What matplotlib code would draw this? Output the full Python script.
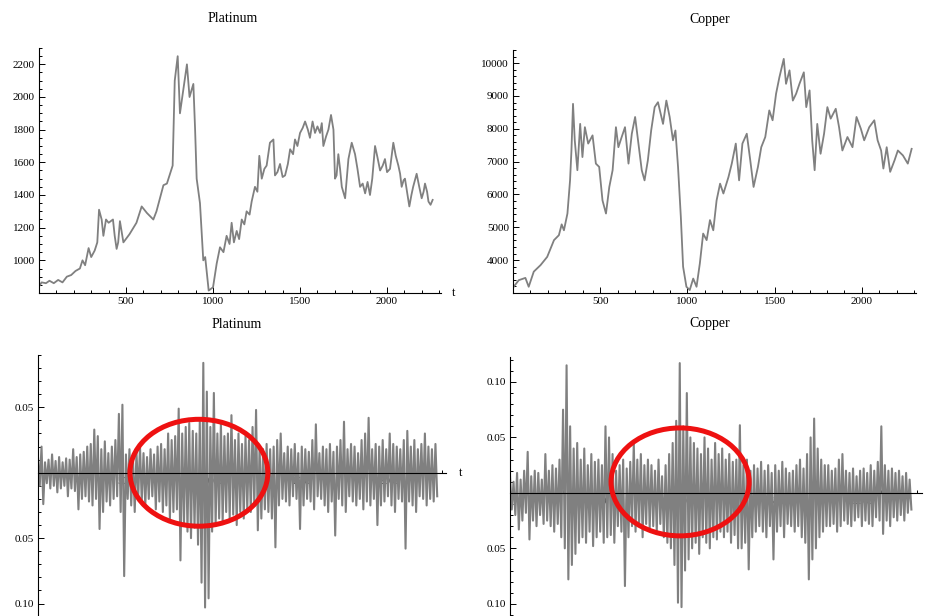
import numpy as np
import matplotlib
matplotlib.use("Agg")
import matplotlib.pyplot as plt
from matplotlib.patches import Ellipse
from matplotlib.ticker import MultipleLocator, FixedLocator, FixedFormatter

plt.rcParams['font.family'] = ['Liberation Serif', 'DejaVu Serif']

# ---- price series (t, value) ----
plat_t = [0, 15, 40, 60, 85, 110, 135, 160, 185, 210, 235, 250, 265, 285, 300, 320, 335, 345,
          360, 370, 385, 400, 425, 435, 446, 455, 465, 485, 520, 560, 590, 620, 657, 675, 695,
          715, 735, 753, 768, 780, 797, 810, 830, 850, 865, 887, 897, 906, 925, 944, 955, 975,
          1000, 1021, 1040, 1060, 1078, 1095, 1107, 1120, 1136, 1150, 1165, 1180, 1193, 1210,
          1222, 1241, 1255, 1266, 1280, 1295, 1308, 1327, 1347, 1356, 1370, 1385, 1400, 1414,
          1430, 1443, 1460, 1471, 1485, 1500, 1515, 1529, 1545, 1557, 1572, 1586, 1600, 1615,
          1625, 1634, 1650, 1663, 1678, 1692, 1701, 1710, 1720, 1730, 1740, 1759, 1778, 1797,
          1816, 1830, 1845, 1860, 1874, 1888, 1902, 1915, 1931, 1945, 1960, 1975, 1988, 2000,
          2017, 2036, 2050, 2065, 2075, 2084, 2095, 2103, 2115, 2128, 2140, 2150, 2170, 2185,
          2199, 2210, 2218, 2230, 2238, 2250, 2262]
plat_p = [840, 865, 860, 875, 860, 880, 865, 900, 910, 935, 950, 1000, 970, 1075, 1020, 1060,
          1110, 1310, 1250, 1150, 1250, 1230, 1250, 1150, 1070, 1110, 1240, 1110, 1160, 1230,
          1330, 1290, 1250, 1300, 1380, 1460, 1470, 1530, 1580, 2100, 2250, 1900, 2050, 2200,
          2000, 2080, 1800, 1500, 1350, 1000, 1020, 815, 835, 980, 1080, 1050, 1150, 1100, 1230,
          1110, 1180, 1130, 1250, 1220, 1300, 1280, 1360, 1450, 1420, 1640, 1500, 1560, 1580,
          1720, 1740, 1520, 1540, 1590, 1510, 1520, 1590, 1680, 1650, 1740, 1700, 1780, 1810,
          1850, 1800, 1750, 1850, 1780, 1820, 1780, 1840, 1700, 1760, 1800, 1890, 1800, 1500,
          1520, 1650, 1560, 1450, 1380, 1620, 1720, 1650, 1560, 1450, 1470, 1410, 1480, 1400,
          1500, 1700, 1630, 1550, 1580, 1620, 1540, 1560, 1720, 1640, 1580, 1530, 1450, 1490,
          1500, 1420, 1330, 1400, 1450, 1530, 1450, 1380, 1420, 1470, 1420, 1360, 1340, 1370]

copper_t = [4, 33, 71, 90, 119, 158, 196, 235, 263, 279, 292, 312, 327, 335, 344, 354, 369,
            385, 398, 412, 431, 456, 475, 494, 513, 533, 552, 571, 590, 604, 623, 642, 662, 681,
            700, 719, 738, 754, 773, 792, 812, 831, 860, 879, 898, 917, 931, 946, 962, 975, 994,
            1013, 1033, 1052, 1071, 1090, 1110, 1129, 1148, 1167, 1187, 1206, 1235, 1254, 1277,
            1296, 1315, 1340, 1360, 1379, 1404, 1423, 1446, 1469, 1488, 1508, 1527, 1552, 1565,
            1585, 1604, 1623, 1642, 1667, 1681, 1700, 1715, 1729, 1744, 1763, 1783, 1802, 1821,
            1850, 1869, 1888, 1917, 1946, 1969, 1994, 2013, 2042, 2071, 2090, 2110, 2123, 2142,
            2162, 2187, 2206, 2235, 2263, 2285]
copper_p = [3190, 3390, 3460, 3190, 3650, 3850, 4100, 4610, 4760, 5090, 4910, 5420, 6430, 7340,
            8760, 7650, 6740, 8150, 7140, 8050, 7550, 7800, 6940, 6840, 5820, 5420, 6230, 6740,
            8050, 7440, 7750, 8050, 6940, 7850, 8360, 7550, 6740, 6430, 7040, 7950, 8660, 8810,
            8150, 8860, 8360, 7650, 7950, 6840, 5320, 3800, 3190, 3090, 3440, 3190, 3900, 4810,
            4610, 5220, 4910, 5820, 6330, 6030, 6530, 6940, 7550, 6430, 7550, 7850, 7040, 6230,
            6840, 7440, 7750, 8560, 8260, 9070, 9570, 10130, 9370, 9780, 8860, 9070, 9370, 9720,
            8660, 9170, 7650, 6740, 8150, 7240, 7850, 8660, 8310, 8610, 8050, 7340, 7750, 7440,
            8360, 8000, 7650, 8050, 8260, 7650, 7340, 6790, 7440, 6690, 7040, 7340, 7190, 6940,
            7390]

# ---- returns: alternating upper / lower spikes every 10 steps, in units of 0.001 ----
plat_up = [12, 20, 8, 10, 14, 9, 12, 8, 11, 10, 18, 12, 14, 16, 20, 22, 33, 28, 18, 24,
           15, 20, 25, 45, 52, 14, 18, 12, 16, 20, 15, 12, 18, 14, 20, 22, 18, 30, 25, 28,
           49, 30, 35, 38, 32, 30, 40, 84, 62, 35, 61, 30, 38, 28, 30, 44, 25, 30, 22, 28,
           25, 35, 48, 20, 18, 22, 18, 20, 25, 30, 15, 20, 18, 22, 15, 20, 18, 16, 25, 37,
           15, 20, 18, 22, 16, 20, 25, 39, 18, 22, 20, 15, 25, 30, 42, 18, 22, 20, 25, 18,
           30, 22, 20, 18, 25, 32, 20, 25, 18, 22, 30, 20, 18, 22]
plat_dn = [-10, -24, -8, -12, -10, -15, -12, -10, -18, -12, -14, -28, -20, -18, -22,
           -25, -20, -43, -30, -22, -25, -20, -18, -30, -79, -20, -25, -30, -18, -22,
           -25, -20, -18, -28, -22, -30, -25, -35, -30, -28, -67, -40, -45, -50, -42,
           -55, -84, -103, -96, -45, -40, -35, -38, -30, -35, -32, -40, -30, -35, -28,
           -30, -25, -44, -35, -28, -30, -35, -57, -25, -20, -22, -25, -18, -20, -43,
           -25, -20, -22, -28, -18, -20, -25, -30, -22, -48, -20, -25, -30, -18, -22,
           -25, -20, -28, -22, -25, -20, -40, -25, -22, -18, -25, -30, -20, -22, -58,
           -22, -25, -30, -18, -20, -25, -20, -22, -18]
copper_up = [15, 10, 18, 12, 20, 37, 15, 20, 18, 12, 35, 20, 25, 22, 30, 75, 115, 60, 40, 45,
             30, 40, 25, 35, 28, 30, 25, 60, 50, 35, 20, 25, 30, 22, 28, 45, 30, 35, 25, 30,
             25, 20, 30, 15, 25, 35, 45, 65, 117, 60, 90, 50, 45, 40, 35, 50, 40, 30, 45, 35,
             40, 30, 35, 28, 30, 61, 25, 30, 20, 25, 22, 28, 20, 25, 18, 25, 20, 28, 22, 18,
             20, 25, 30, 22, 35, 50, 67, 40, 30, 25, 25, 20, 22, 30, 35, 20, 18, 22, 15, 20,
             22, 18, 25, 20, 28, 60, 25, 20, 22, 18, 20, 15, 18, 12]
copper_dn = [-15, -20, -33, -25, -18, -42, -25, -30, -20, -28, -25, -30, -35, -28, -40,
             -50, -78, -65, -55, -45, -40, -45, -35, -48, -40, -35, -45, -40, -38, -45,
             -30, -35, -84, -40, -30, -35, -30, -40, -28, -32, -30, -35, -28, -40, -45,
             -50, -65, -99, -103, -70, -60, -50, -45, -55, -40, -45, -50, -40, -42, -35,
             -40, -35, -45, -38, -50, -50, -45, -69, -40, -35, -30, -35, -40, -30, -60,
             -35, -30, -40, -28, -30, -35, -30, -40, -45, -78, -60, -50, -40, -35, -30,
             -30, -28, -35, -30, -25, -28, -30, -25, -22, -30, -25, -28, -30, -22, -25,
             -37, -25, -30, -22, -25, -20, -25, -18, -15]


def interleave(up, dn):
    r = np.empty(len(up) + len(dn))
    r[0::2] = up
    r[1::2] = dn
    return r / 1000.0


plat_r = interleave(plat_up, plat_dn)
copper_r = interleave(copper_up, copper_dn)
t_r = np.arange(len(plat_r)) * 10

W, H = 928, 616
fig = plt.figure(figsize=(W / 100, H / 100), dpi=100)


def box(x0, y_axis, x1, y_top, y_bot):
    # pixel positions -> figure fraction
    return [x0 / W, (H - y_bot) / H, (x1 - x0) / W, (y_bot - y_top) / H]


def style(ax):
    for s in ['top', 'right']:
        ax.spines[s].set_visible(False)
    ax.spines['left'].set_linewidth(0.8)
    ax.spines['bottom'].set_linewidth(0.8)
    ax.tick_params(which='both', direction='in', labelsize=8, width=0.7, pad=3)
    ax.tick_params(which='major', length=4)
    ax.tick_params(which='minor', length=2.2)
    ax.xaxis.set_major_locator(MultipleLocator(500))
    ax.xaxis.set_minor_locator(MultipleLocator(100))
    ax.patch.set_alpha(0)


gray = '#808080'

# top left: platinum price
ax1 = fig.add_axes(box(39, 293, 441, 48, 293))
ax1.plot(plat_t, plat_p, color=gray, lw=1.3)
ax1.set_xlim(0, 2310)
ax1.set_ylim(800, 2300)
style(ax1)
ax1.yaxis.set_major_locator(FixedLocator([1000, 1200, 1400, 1600, 1800, 2000, 2200]))
ax1.yaxis.set_minor_locator(MultipleLocator(50))
ax1.annotate('t', xy=(1, 800), xycoords=('axes fraction', 'data'), xytext=(8, 0),
             textcoords='offset points', va='center', ha='left', fontsize=9)

# top right: copper price
ax2 = fig.add_axes(box(513, 293, 916, 50, 293))
ax2.plot(copper_t, copper_p, color=gray, lw=1.3)
ax2.set_xlim(0, 2310)
ax2.set_ylim(3000, 10400)
style(ax2)
ax2.yaxis.set_major_locator(FixedLocator([4000, 5000, 6000, 7000, 8000, 9000, 10000]))
ax2.yaxis.set_minor_locator(MultipleLocator(200))

# bottom left: platinum returns
ax3 = fig.add_axes(box(38, 473, 446, 355, 616))
ax3.plot(t_r, plat_r, color=gray, lw=1.5)
ax3.set_xlim(0, 2320)
ax3.set_ylim(-0.1095, 0.090)
style(ax3)
ax3.spines['bottom'].set_position(('data', 0))
ax3.yaxis.set_major_locator(FixedLocator([-0.10, -0.05, 0.05]))
ax3.yaxis.set_major_formatter(FixedFormatter(['0.10', '0.05', '0.05']))
ax3.yaxis.set_minor_locator(MultipleLocator(0.01))
ax3.annotate('t', xy=(1, 0), xycoords=('axes fraction', 'data'), xytext=(9, 0),
             textcoords='offset points', va='center', ha='left', fontsize=9)
ax3.add_patch(Ellipse((915, 0.0), 784, 0.0817, fill=False, ec='#ee1111', lw=3.6,
                      zorder=5, clip_on=False))

# bottom right: copper returns
ax4 = fig.add_axes(box(510, 493, 922, 357, 616))
ax4.plot(t_r, copper_r, color=gray, lw=1.5)
ax4.set_xlim(0, 2330)
ax4.set_ylim(-0.111, 0.1225)
style(ax4)
ax4.spines['bottom'].set_position(('data', 0))
ax4.yaxis.set_major_locator(FixedLocator([-0.10, -0.05, 0.05, 0.10]))
ax4.yaxis.set_major_formatter(FixedFormatter(['0.10', '0.05', '0.05', '0.10']))
ax4.yaxis.set_minor_locator(MultipleLocator(0.01))
ax4.add_patch(Ellipse((962, 0.0099), 781, 0.0973, fill=False, ec='#ee1111', lw=3.6,
                      zorder=5, clip_on=False))

for ax in (ax1, ax2, ax3, ax4):
    ax.set_xticks([500, 1000, 1500, 2000])

# titles
fig.text(233 / W, 1 - 19 / H, 'Platinum', ha='center', va='center', fontsize=10)
fig.text(710 / W, 1 - 19 / H, 'Copper', ha='center', va='center', fontsize=10)
fig.text(237 / W, 1 - 324 / H, 'Platinum', ha='center', va='center', fontsize=10)
fig.text(710 / W, 1 - 324 / H, 'Copper', ha='center', va='center', fontsize=10)

fig.savefig('out.png', dpi=100)
